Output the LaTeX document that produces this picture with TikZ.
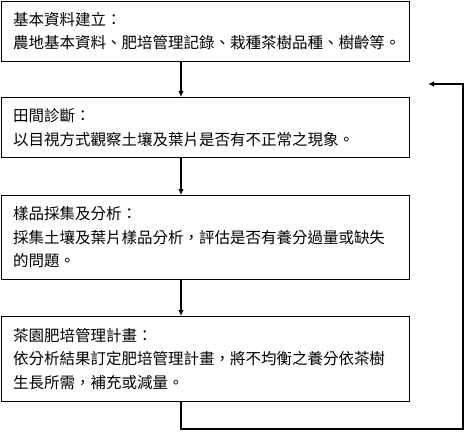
\documentclass[tikz,border=0pt]{standalone}
\usepackage{fontspec}
\newfontfamily\cjk{Noto Sans CJK TC}
\usetikzlibrary{positioning}
\usetikzlibrary{arrows.meta}

\tikzset{
	stagebox/.style={draw=black, line width=1pt, anchor=north west, align=left,
		text width=384pt, inner xsep=11.5pt, inner ysep=0pt, minimum width=408pt,
		font=\cjk\fontsize{15.5}{23.5}\selectfont},
	flow/.style={draw=black, line width=1.3pt, -{Latex[length=6pt,width=5.5pt]}}
}

\begin{document}
\begin{tikzpicture}[x=1pt,y=-1pt]
				\useasboundingbox (0,0) rectangle (466,432);
				%Nodes
				\node[stagebox, minimum height=60pt] (basic) at (0.5,0.5)
					{基本資料建立：\\農地基本資料、肥培管理記錄、栽種茶樹品種、樹齡等。};
				\node[stagebox, minimum height=60pt] (field) at (0.5,97)
					{田間診斷：\\以目視方式觀察土壤及葉片是否有不正常之現象。};
				\node[stagebox, minimum height=84pt] (sample) at (0.5,195)
					{樣品採集及分析：\\採集土壤及葉片樣品分析，評估是否有養分過量或缺失\\的問題。};
				\node[stagebox, minimum height=85pt] (plan) at (0.5,316)
					{茶園肥培管理計畫：\\依分析結果訂定肥培管理計畫，將不均衡之養分依茶樹\\生長所需，補充或減量。};

				\coordinate (loopcorner) at (463,429);
				\coordinate (looptop) at (463,84);
				\coordinate (looptip) at (428,84);

				%Lines
				\draw[flow] ([xshift=-24pt]basic.south) -- ([xshift=-24pt]field.north);
				\draw[flow] ([xshift=-24pt]field.south) -- ([xshift=-24pt]sample.north);
				\draw[flow] ([xshift=-24pt]sample.south) -- ([xshift=-24pt]plan.north);
				\draw[flow] ([xshift=-24pt]plan.south) |- (loopcorner) -- (looptop) -- (looptip);
\end{tikzpicture}
\end{document}
